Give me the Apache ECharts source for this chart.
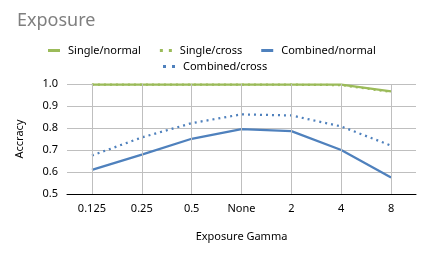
<!DOCTYPE html>
<html><head><meta charset="utf-8">
<script src="https://cdn.jsdelivr.net/npm/echarts@6/dist/echarts.min.js"></script>
<style>html,body{margin:0;padding:0;background:#fff}#c{width:428px;height:255px}</style>
</head><body><div id="c"></div>
<script>
const categories = ['0.125','0.25','0.5','None','2','4','8'];
const singleNormal = [0.997,0.997,0.997,0.997,0.997,0.997,0.966];
const singleCross = [0.997,0.997,0.997,0.997,0.997,0.995,0.964];
const combinedNormal = [0.610,0.679,0.751,0.795,0.786,0.700,0.575];
const combinedCross = [0.675,0.757,0.822,0.862,0.857,0.807,0.720];
const yTicks = [0.5,0.6,0.7,0.8,0.9,1.0];

const GREEN = '#9bbb59', BLUE = '#4f81bd';
const font = 'Noto Sans';
const SOLID = 'rect';
const DOTS = 'path://M0,0h3v3h-3z M9,0h3v3h-3z';
const chart = echarts.init(document.getElementById('c'));
const lt = {fontFamily:font,fontSize:11,color:'#000',padding:[0,0,0,3]};
chart.setOption({
  animation:false,
  title:{text:'Exposure',left:12,top:7,textStyle:{fontFamily:font,fontSize:18,fontWeight:'normal',color:'#7f7f7f'}},
  legend:[
    {data:[{name:'Single/normal',icon:SOLID},{name:'Single/cross',icon:DOTS},{name:'Combined/normal',icon:SOLID}],
     left:43,top:40,itemWidth:12,itemHeight:3,itemGap:19,textStyle:lt},
    {data:[{name:'Combined/cross',icon:DOTS}],left:158,top:56,itemWidth:12,itemHeight:3,textStyle:lt}
  ],
  grid:{left:67,right:12,top:84,bottom:61},
  xAxis:{type:'category',data:categories,boundaryGap:true,
    name:'Exposure Gamma',nameLocation:'middle',nameGap:37,
    nameTextStyle:{fontFamily:font,fontSize:11,color:'#000'},
    axisLine:{lineStyle:{color:'#000',width:1}},axisTick:{show:false},
    axisLabel:{fontFamily:font,fontSize:11,color:'#000',margin:9},
    splitLine:{show:false}},
  yAxis:{type:'value',min:0.5,max:1.0,interval:0.1,
    name:'Accracy',nameLocation:'middle',nameGap:42,
    nameTextStyle:{fontFamily:font,fontSize:11,color:'#000'},
    axisLine:{show:false},axisTick:{show:false},
    axisLabel:{fontFamily:font,fontSize:11,color:'#000',margin:9,formatter:v=>v.toFixed(1)},
    splitLine:{lineStyle:{color:'#bfbfbf',width:1}}},
  series:[
    {name:'Combined/normal',type:'line',data:combinedNormal,symbol:'none',z:3,
     lineStyle:{color:BLUE,width:2.25},itemStyle:{color:BLUE},
     markLine:{silent:true,symbol:'none',label:{show:false},animation:false,
       lineStyle:{color:'#bfbfbf',width:1,type:'solid'},
       data:categories.map(c=>({xAxis:c}))}},
    {name:'Combined/cross',type:'line',data:combinedCross,symbol:'none',z:3,
     lineStyle:{color:BLUE,width:2.25,type:[2,4]},itemStyle:{color:BLUE}},
    {name:'Single/cross',type:'line',data:singleCross,symbol:'none',z:3,
     lineStyle:{color:GREEN,width:2.25,type:[2,4]},itemStyle:{color:GREEN}},
    {name:'Single/normal',type:'line',data:singleNormal,symbol:'none',z:4,
     lineStyle:{color:GREEN,width:2.25},itemStyle:{color:GREEN}}
  ]
});
</script></body></html>
